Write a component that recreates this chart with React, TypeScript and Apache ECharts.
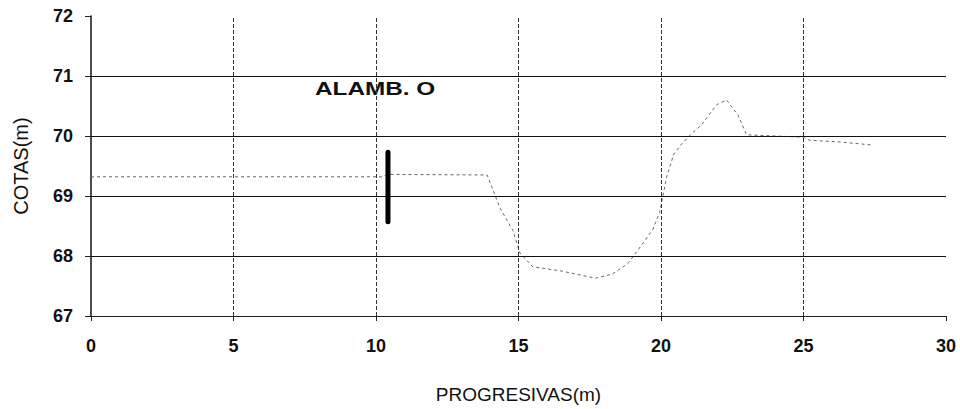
import React, { useEffect, useRef } from "react";
import * as echarts from "echarts";

// Terrain profile (progresiva in m, cota in m)
const profileX = [0, 10.2, 10.4, 13.9, 14.35, 14.8, 15.05, 15.5, 16.5, 17.7, 18.3, 18.85, 19.7, 19.95, 20.2, 20.45, 20.75, 21.1, 21.45, 21.95, 22.3, 22.7, 23.0, 24.0, 25.0, 25.2, 26.3, 27.4];
const profileY = [69.32, 69.32, 69.36, 69.35, 68.8, 68.43, 68.05, 67.82, 67.75, 67.63, 67.7, 67.88, 68.43, 68.72, 69.32, 69.7, 69.88, 70.05, 70.2, 70.52, 70.6, 70.35, 70.02, 70.0, 69.98, 69.93, 69.9, 69.85];

// Wire post (alambrado)
const postX = [10.42, 10.42];
const postY = [68.57, 69.73];

// Gridlines drawn inside the plot
const hGrid = [68, 69, 70, 71];
const vGrid = [5, 10, 15, 20, 25];

const xTicks = { min: 0, max: 30, interval: 5 };
const yTicks = { min: 67, max: 72, interval: 1 };

const labelText = "ALAMB. O";

export default function App() {
  const ref = useRef<HTMLDivElement>(null);
  useEffect(() => {
    if (!ref.current) return;
    const chart = echarts.init(ref.current, null, { renderer: "svg" });
    const font = "Arial, 'Liberation Sans', sans-serif";
    chart.setOption({
      animation: false,
      backgroundColor: "#ffffff",
      grid: { left: 91, right: 14, top: 16, bottom: 93, outerBoundsMode: "none" },
      xAxis: {
        type: "value",
        min: xTicks.min,
        max: xTicks.max,
        interval: xTicks.interval,
        name: "PROGRESIVAS(m)",
        nameLocation: "middle",
        nameGap: 69,
        nameTextStyle: { fontFamily: font, fontSize: 19, color: "#111", verticalAlign: "top" },
        axisLine: { show: true, lineStyle: { color: "#222", width: 1 } },
        axisTick: { show: true, length: 5, inside: false, lineStyle: { color: "#222" } },
        axisLabel: { margin: 21, fontFamily: font, fontSize: 18, fontWeight: "bold", color: "#111" },
        splitLine: { show: false },
      },
      yAxis: {
        type: "value",
        min: yTicks.min,
        max: yTicks.max,
        interval: yTicks.interval,
        name: "COTAS(m)",
        nameLocation: "middle",
        nameGap: 60,
        nameRotate: 90,
        nameTextStyle: { fontFamily: font, fontSize: 20, color: "#111" },
        axisLine: { show: true, lineStyle: { color: "#111", width: 1.5 } },
        axisTick: { show: true, length: 6, inside: false, lineStyle: { color: "#222" } },
        axisLabel: { margin: 18, fontFamily: font, fontSize: 18, fontWeight: "bold", color: "#111" },
        splitLine: { show: false },
      },
      series: [
        {
          type: "line",
          name: "grid",
          data: [],
          silent: true,
          markLine: {
            silent: true,
            symbol: "none",
            label: { show: false },
            data: [
              ...hGrid.map((v) => ({ yAxis: v, lineStyle: { color: "#111", width: 1, type: "solid" } })),
              ...vGrid.map((v) => ({ xAxis: v, lineStyle: { color: "#333", width: 1, type: [4, 2] } })),
            ],
          },
        },
        {
          type: "line",
          name: "terreno",
          data: profileX.map((x, i) => [x, profileY[i]]),
          showSymbol: false,
          symbol: "none",
          lineStyle: { color: "#666", width: 1, type: [3, 3] },
        },
        {
          type: "line",
          name: "alambrado",
          data: postX.map((x, i) => [x, postY[i]]),
          showSymbol: false,
          symbol: "none",
          lineStyle: { color: "#000", width: 5, cap: "round" },
          z: 5,
        },
      ],
      graphic: [
        {
          type: "text",
          x: 315,
          y: 79,
          scaleX: 1.28,
          style: {
            text: labelText,
            font: `bold 19px ${font}`,
            fill: "#111",
            textVerticalAlign: "top",
          },
        },
      ],
    });
    return () => chart.dispose();
  }, []);
  return <div ref={ref} style={{ position: "fixed", left: 0, top: 0, width: 960, height: 409 }} />;
}
